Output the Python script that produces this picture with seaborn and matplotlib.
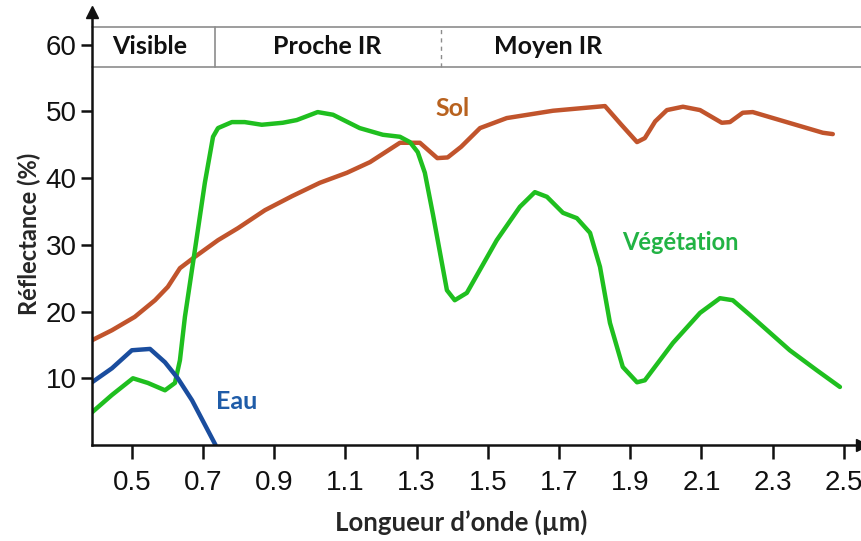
import numpy as np
import pandas as pd
import matplotlib
matplotlib.use('Agg')
import matplotlib.pyplot as plt
from matplotlib import font_manager
import seaborn as sns

SOL_COLOR = '#c1542c'
VEG_COLOR = '#1fbf1f'
EAU_COLOR = '#1a4d9e'

# Spectral signatures (wavelength in um, reflectance in %)
wl_sol = [0.388, 0.444, 0.508, 0.565, 0.601, 0.635, 0.677, 0.742, 0.798, 0.874,
          0.95, 1.028, 1.104, 1.169, 1.253, 1.309, 1.358, 1.387, 1.425, 1.478,
          1.553, 1.683, 1.829, 1.875, 1.919, 1.941, 1.970, 2.003, 2.048, 2.096,
          2.157, 2.180, 2.216, 2.244, 2.301, 2.441, 2.469]
sol = [15.7, 17.2, 19.2, 21.7, 23.7, 26.5, 28.2, 30.7, 32.5, 35.2,
       37.3, 39.3, 40.8, 42.4, 45.3, 45.3, 43.0, 43.1, 44.7, 47.5,
       49.0, 50.1, 50.8, 48.0, 45.4, 46.0, 48.5, 50.2, 50.7, 50.2,
       48.3, 48.4, 49.8, 49.9, 49.0, 46.8, 46.6]

wl_veg = [0.388, 0.444, 0.503, 0.545, 0.593, 0.621, 0.635, 0.649, 0.677, 0.705,
          0.728, 0.742, 0.781, 0.817, 0.865, 0.924, 0.963, 1.022, 1.065, 1.140,
          1.205, 1.253, 1.281, 1.303, 1.323, 1.346, 1.385, 1.407, 1.441, 1.525,
          1.590, 1.632, 1.666, 1.711, 1.750, 1.787, 1.815, 1.843, 1.879, 1.919,
          1.941, 2.020, 2.096, 2.152, 2.188, 2.236, 2.348, 2.424, 2.489]
veg = [4.9, 7.5, 10.0, 9.3, 8.2, 9.3, 12.7, 19.2, 29.2, 39.3,
       46.2, 47.5, 48.4, 48.4, 48.0, 48.3, 48.7, 49.9, 49.5, 47.5,
       46.5, 46.2, 45.4, 43.9, 40.8, 34.5, 23.2, 21.7, 22.8, 30.7,
       35.7, 37.9, 37.2, 34.8, 34.0, 31.8, 26.7, 18.3, 11.7, 9.4,
       9.7, 15.3, 19.8, 22.0, 21.7, 19.5, 14.2, 11.2, 8.7]

wl_eau = [0.388, 0.444, 0.500, 0.551, 0.593, 0.629, 0.669, 0.735]
eau = [9.4, 11.5, 14.2, 14.4, 12.4, 10.0, 6.7, 0.0]

x_ticks = [0.5, 0.7, 0.9, 1.1, 1.3, 1.5, 1.7, 1.9, 2.1, 2.3, 2.5]
y_ticks = [10, 20, 30, 40, 50, 60]

# spectral domains shown in the top band
band_names = ['Visible', 'Proche IR', 'Moyen IR']
band_centers = [0.55, 1.048, 1.668]
band_limits = [0.733, 1.368]


def pick_font(candidates):
    names = {f.name for f in font_manager.fontManager.ttflist}
    for c in candidates:
        if c in names:
            return c
    return 'DejaVu Sans'


def main():
    sns.set_style('ticks')
    num_font = pick_font(['Liberation Sans Narrow', 'Liberation Sans'])
    bold_font = pick_font(['Lato', 'Open Sans', 'Noto Sans'])

    fig = plt.figure(figsize=(8.62, 5.41), dpi=100)
    ax = fig.add_axes([92 / 862, 96 / 541, 770 / 862, 433 / 541])

    curves = [(wl_sol, sol, SOL_COLOR), (wl_veg, veg, VEG_COLOR), (wl_eau, eau, EAU_COLOR)]
    for wl, refl, color in curves:
        df = pd.DataFrame({'wl': wl, 'R': refl})
        sns.lineplot(data=df, x='wl', y='R', ax=ax, color=color, lw=3.2,
                     solid_joinstyle='round')

    ax.set_xlim(0.388, 2.551)
    ax.set_ylim(0, 64.9)

    # Top band with the spectral domains
    y0, y1 = 56.7, 62.7
    ax.plot([0.388, 2.551], [y1, y1], color='#8c8c8c', lw=1.2, clip_on=False)
    ax.plot([0.388, 2.551], [y0, y0], color='#8c8c8c', lw=1.2, clip_on=False)
    ax.plot([band_limits[0]] * 2, [y0, y1], color='#8c8c8c', lw=1.2)
    ax.plot([band_limits[1]] * 2, [y0, y1], color='#8c8c8c', lw=1.0, ls=(0, (3, 3)))
    for name, xc in zip(band_names, band_centers):
        ax.text(xc, (y0 + y1) / 2, name, ha='center', va='center',
                fontsize=18, fontweight='bold', family=bold_font, color='#111111')

    # Curve labels
    ax.text(1.402, 50.5, 'Sol', color='#b8621f', fontsize=18, fontweight='bold',
            family=bold_font, ha='center', va='center')
    ax.text(2.04, 30.4, 'Végétation', color='#22b344', fontsize=17, fontweight='bold',
            family=bold_font, ha='center', va='center')
    ax.text(0.795, 6.5, 'Eau', color='#1f5ca8', fontsize=18, fontweight='bold',
            family=bold_font, ha='center', va='center')

    # Axes with arrows
    sns.despine(ax=ax)
    for side in ['left', 'bottom']:
        ax.spines[side].set_linewidth(1.8)
        ax.spines[side].set_color('#111111')
    ax.plot(1, 0, '>', color='#111111', ms=9, transform=ax.transAxes, clip_on=False)
    ax.plot(0, 1, '^', color='#111111', ms=9, transform=ax.transAxes, clip_on=False)

    ax.set_xticks(x_ticks)
    ax.set_xticklabels(['%.1f' % v for v in x_ticks])
    ax.set_yticks(y_ticks)
    ax.set_yticklabels(['%d' % v for v in y_ticks])
    ax.tick_params(axis='x', length=10, width=1.8, pad=8, labelsize=20, colors='#111111')
    ax.tick_params(axis='y', length=8, width=1.8, pad=3, labelsize=20, colors='#111111')
    for lab in ax.get_xticklabels() + ax.get_yticklabels():
        lab.set_family(num_font)

    ax.set_xlabel('Longueur d’onde (µm)', fontsize=18.5, fontweight='bold', family=bold_font)
    ax.set_ylabel('Réflectance (%)', fontsize=17, fontweight='bold', family=bold_font)
    ax.xaxis.set_label_coords(0.48, -0.15)
    ax.yaxis.set_label_coords(-0.066, 0.487)

    fig.savefig('out.png', dpi=100)
    plt.close(fig)


if __name__ == '__main__':
    main()
